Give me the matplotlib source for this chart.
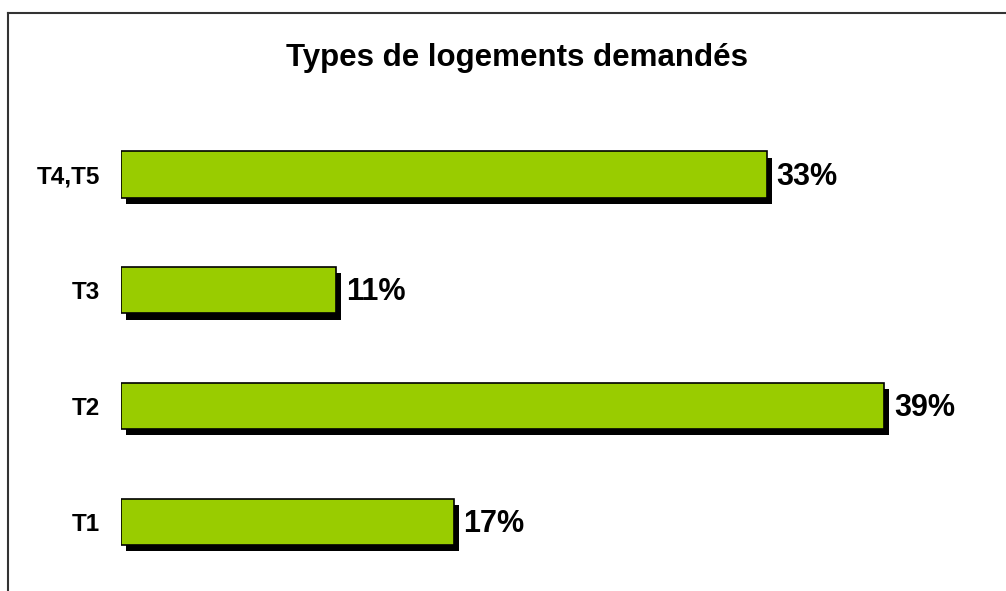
import numpy as np
import matplotlib.pyplot as plt
import matplotlib.patheffects as pe
from matplotlib.lines import Line2D

plt.rcParams['font.family'] = ['Liberation Sans', 'DejaVu Sans']
plt.rcParams['font.weight'] = 'bold'

# data (bottom to top)
categories = ['T1', 'T2', 'T3', 'T4,T5']
values = [17, 39, 11, 33]
value_labels = ['17%', '39%', '11%', '33%']
title = 'Types de logements demandés'

W, H = 1006, 591
fig = plt.figure(figsize=(W / 100, H / 100), dpi=100)

# axes placed in pixel terms: bars start at x=121, ~19.57 px per %
px_per_pct = 19.57
xmax = 45
ax_left, ax_w = 121, px_per_pct * xmax
ax_top, ax_h = 116.6, 463
ax = fig.add_axes([ax_left / W, (H - ax_top - ax_h) / H, ax_w / W, ax_h / H])

y = np.arange(len(categories))
bars = ax.barh(y, values, height=0.4, color='#99CC00', edgecolor='black', linewidth=1.2)
for b in bars:
    b.set_path_effects([pe.SimplePatchShadow(offset=(3.6, -4.5), shadow_rgbFace='black', alpha=1.0),
                        pe.Normal()])

for yi, v, lab in zip(y, values, value_labels):
    ax.annotate(lab, (v, yi), xytext=(7, -1.5), textcoords='offset points',
                ha='left', va='center', fontsize=22, fontweight='bold')

ax.set_xlim(0, xmax)
ax.set_ylim(-0.5, 3.5)
ax.set_yticks(y)
ax.set_yticklabels(categories, fontsize=17.5, fontweight='bold')
ax.tick_params(axis='y', length=0, pad=15)
ax.set_xticks([])
for s in ax.spines.values():
    s.set_visible(False)

fig.text(516.5 / W, 1 - 58 / H, title, ha='center', va='center', fontsize=22.5, fontweight='bold')

# outer frame: left and top only
fig.add_artist(Line2D([8 / W, 8 / W], [0, 1 - 13 / H], color='#333333', linewidth=1.5, transform=fig.transFigure))
fig.add_artist(Line2D([8 / W, 1], [1 - 13 / H, 1 - 13 / H], color='#333333', linewidth=1.5, transform=fig.transFigure))

fig.savefig('out.png', dpi=100)
